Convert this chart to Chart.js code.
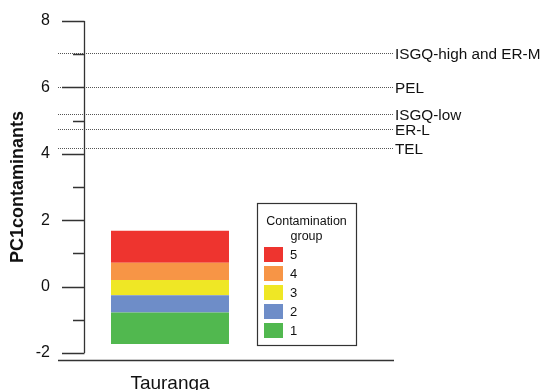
<!DOCTYPE html>
<html>
<head>
<meta charset="utf-8">
<script src="https://cdn.jsdelivr.net/npm/chart.js@4.4.0/dist/chart.umd.min.js"></script>
<style>
  html, body { margin: 0; padding: 0; background: #fff; }
  #wrap { width: 542px; height: 390px; }
</style>
</head>
<body>
<div id="wrap"><canvas id="myChart" width="542" height="390"></canvas></div>
<script>
// site and contamination group segments (PC1 units, bottom to top)
var sites = ["Tauranga"];
var groupLabels = ["1", "2", "3", "4", "5"];
var groupColors = ["#51b84f", "#6e8dc8", "#efe725", "#f79546", "#ee342f"];
var groupLow  = [-1.73, -0.78, -0.26, 0.20, 0.72];
var groupHigh = [-0.78, -0.26, 0.20, 0.72, 1.68];

// sediment quality guideline levels
var guideNames  = ["ISGQ-high and ER-M", "PEL", "ISGQ-low", "ER-L", "TEL"];
var guideValues = [7.04, 6.02, 5.20, 4.75, 4.16];

var yMin = -2, yMax = 8;
var FONT = '"Liberation Sans", Arial, sans-serif';

function makeDatasets() {
    var out = [];
    for (var i = 0; i < groupLabels.length; i++) {
        out.push({
            label: groupLabels[i],
            data: [[groupLow[i], groupHigh[i]]],
            backgroundColor: groupColors[i],
            borderWidth: 0,
            categoryPercentage: 1,
            barPercentage: 0.686
        });
    }
    return out;
}

var extras = {
    id: 'extras',
    afterDraw: function(chart) {
        var ctx = chart.ctx, ys = chart.scales.y, area = chart.chartArea;
        var ax = Math.round(area.left) + 0.5;
        ctx.save();

        // dotted guideline levels + names
        ctx.strokeStyle = '#555';
        ctx.lineWidth = 1;
        ctx.setLineDash([1, 1]);
        ctx.font = '15.3px ' + FONT;
        ctx.fillStyle = '#111';
        ctx.textAlign = 'left';
        ctx.textBaseline = 'middle';
        for (var i = 0; i < guideValues.length; i++) {
            var py = Math.round(ys.getPixelForValue(guideValues[i])) + 0.5;
            ctx.beginPath();
            ctx.moveTo(58, py);
            ctx.lineTo(394, py);
            ctx.stroke();
            ctx.fillText(guideNames[i], 395, py + 1);
        }
        ctx.setLineDash([]);

        // y axis line and ticks
        ctx.strokeStyle = '#333';
        ctx.lineWidth = 1.3;
        ctx.beginPath();
        ctx.moveTo(ax, ys.getPixelForValue(yMax));
        ctx.lineTo(ax, ys.getPixelForValue(yMin));
        for (var v = yMin; v <= yMax; v++) {
            var ty = Math.round(ys.getPixelForValue(v)) + 0.5;
            ctx.moveTo(v % 2 === 0 ? 62 : 73, ty);
            ctx.lineTo(ax, ty);
        }
        ctx.stroke();

        // x axis line
        ctx.beginPath();
        ctx.moveTo(58, 360.5);
        ctx.lineTo(394, 360.5);
        ctx.stroke();

        // legend box
        var lx = 257, ly = 203, lw = 99, lh = 142;
        ctx.lineWidth = 1.2;
        ctx.strokeStyle = '#333';
        ctx.strokeRect(lx + 0.5, ly + 0.5, lw, lh);
        ctx.fillStyle = '#111';
        ctx.textAlign = 'center';
        ctx.font = '12.5px ' + FONT;
        ctx.fillText('Contamination', lx + lw / 2, 222);
        ctx.fillText('group', lx + lw / 2, 237);
        ctx.textAlign = 'left';
        ctx.font = '13px ' + FONT;
        for (var k = 0; k < groupLabels.length; k++) {
            var idx = groupLabels.length - 1 - k;
            var ry = 254 + k * 19;
            ctx.fillStyle = groupColors[idx];
            ctx.fillRect(264, ry - 7, 19, 15);
            ctx.fillStyle = '#111';
            ctx.fillText(groupLabels[idx], 290, ry + 1);
        }
        ctx.restore();
    }
};

var ctx = document.getElementById('myChart').getContext('2d');

var chart = new Chart(ctx, {
    type: 'bar',
    data: {
        labels: sites,
        datasets: makeDatasets()
    },
    options: {
        responsive: false,
        animation: false,
        devicePixelRatio: 1,
        layout: { padding: { top: 21, right: 286, left: 0, bottom: 0 } },
        plugins: { legend: { display: false }, tooltip: { enabled: false } },
        scales: {
            x: {
                stacked: true,
                grid: { display: false, drawTicks: false },
                border: { display: false },
                ticks: { color: '#111', padding: 19, font: { size: 19, family: FONT } },
                afterFit: function(s) { s.height = 37; s.paddingLeft = 0; s.paddingRight = 0; }
            },
            y: {
                stacked: false,
                min: yMin,
                max: yMax,
                grid: { display: false, drawTicks: false },
                border: { display: false },
                ticks: {
                    stepSize: 1,
                    autoSkip: false,
                    padding: 34,
                    color: '#111',
                    font: { size: 16, family: FONT },
                    callback: function(v) { return v % 2 === 0 ? v : ''; }
                },
                title: {
                    display: true,
                    text: 'PC1contaminants',
                    color: '#111',
                    padding: { top: 7, bottom: 0 },
                    font: { size: 18, weight: 'bold', family: FONT }
                },
                afterFit: function(s) { s.width = 84; s.paddingTop = 0; s.paddingBottom = 0; }
            }
        }
    },
    plugins: [extras]
});
</script>
</body>
</html>
